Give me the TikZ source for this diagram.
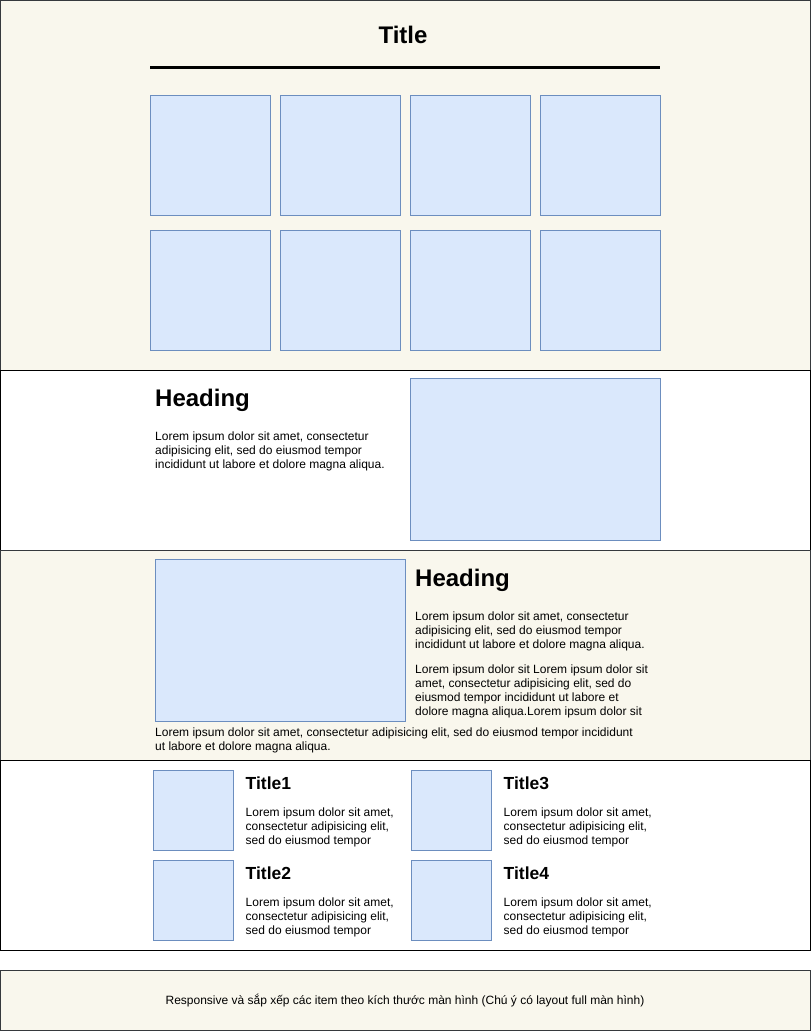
\documentclass[tikz,border=0pt]{standalone}
\usepackage{fontspec}
\setmainfont{Liberation Sans}
\definecolor{beige}{HTML}{F9F7ED}
\definecolor{tileblue}{HTML}{DAE8FC}
\definecolor{tileedge}{HTML}{6C8EBF}
\definecolor{frame}{HTML}{36393D}
\begin{document}
\begin{tikzpicture}[x=1pt, y=-1pt,
    band/.style={draw=frame, fill=beige, line width=1pt},
    plainband/.style={draw=black, fill=white, line width=1pt},
    tile/.style={draw=tileedge, fill=tileblue, line width=0.8pt, inner sep=0pt},
    lorem/.style={anchor=north west, inner sep=0pt, align=left, font=\fontsize{12}{14}\selectfont},
    heading/.style={anchor=base west, inner sep=0pt, font=\fontsize{24}{28}\selectfont\bfseries},
    itemtitle/.style={anchor=base west, inner sep=0pt, font=\fontsize{17.5}{20}\selectfont\bfseries}]
    \useasboundingbox (0,0) rectangle (811,1031);

    % Pásy (sekce)
    \draw[band] (0.5,0.5) rectangle (810.5,370.5);
    \draw[plainband] (0.5,370.5) rectangle (810.5,550.5);
    \draw[band] (0.5,550.5) rectangle (810.5,760.5);
    \draw[plainband] (0.5,760.5) rectangle (810.5,950.5);
    \draw[band] (0.5,970.5) rectangle (810.5,1030.5);

    % Nadpis a čára
    \node[font=\fontsize{24}{28}\selectfont\bfseries, anchor=base, inner sep=0pt] (title) at (403,43) {Title};
    \draw[line width=3pt] (150,67) -- (660,67);

    % Mřížka 4x2
    \foreach \c in {0,...,3}
        \foreach \r in {0,1}
            \node[tile, minimum size=120pt] (grid-\r-\c) at (210+130*\c, 155+135*\r) {};

    % Sekce 2: text vlevo, obrázek vpravo
    \node[heading] (head-a) at (155,406) {Heading};
    \node[lorem] (text-a) at (155,431.5) {Lorem ipsum dolor sit amet, consectetur\\adipisicing elit, sed do eiusmod tempor\\incididunt ut labore et dolore magna aliqua.};
    \node[tile, minimum width=250pt, minimum height=162pt] (img-a) at (535,459) {};

    % Sekce 3: obrázek vlevo, text vpravo a pod ním
    \node[tile, minimum width=250pt, minimum height=162pt] (img-b) at (280,640) {};
    \node[heading] (head-b) at (415,586) {Heading};
    \node[lorem] (text-b1) at (415,611.5) {Lorem ipsum dolor sit amet, consectetur\\adipisicing elit, sed do eiusmod tempor\\incididunt ut labore et dolore magna aliqua.};
    \node[lorem] (text-b2) at (415,664.5) {Lorem ipsum dolor sit Lorem ipsum dolor sit\\amet, consectetur adipisicing elit, sed do\\eiusmod tempor incididunt ut labore et\\dolore magna aliqua.Lorem ipsum dolor sit};
    \node[lorem] (text-b3) at (155,727.5) {Lorem ipsum dolor sit amet, consectetur adipisicing elit, sed do eiusmod tempor incididunt\\ut labore et dolore magna aliqua.};

    % Sekce 4: čtyři položky
    \foreach \n/\x/\y in {1/153/770, 2/153/860, 3/411/770, 4/411/860} {
        \node[tile, minimum size=80pt] (item-\n) at (\x+40, \y+40) {};
        \node[itemtitle] (item-title-\n) at (\x+92.5, \y+19) {Title\n};
        \node[lorem] (item-text-\n) at (\x+92.5, \y+37.5) {Lorem ipsum dolor sit amet,\\consectetur adipisicing elit,\\sed do eiusmod tempor};
    }

    % Patička
    \node[font=\fontsize{12}{14}\selectfont, anchor=base, inner sep=0pt] (footer) at (405,1004) {Responsive và sắp xếp các item theo kích thước màn hình (Chú ý có layout full màn hình)};
\end{tikzpicture}
\end{document}
